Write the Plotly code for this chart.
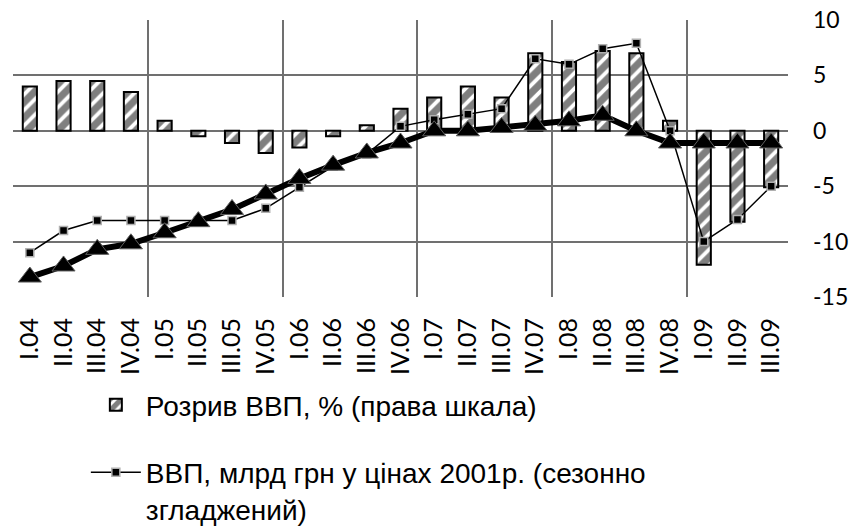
import plotly.graph_objects as go

categories = ["I.04", "II.04", "III.04", "IV.04", "I.05", "II.05", "III.05", "IV.05",
              "I.06", "II.06", "III.06", "IV.06", "I.07", "II.07", "III.07", "IV.07",
              "I.08", "II.08", "III.08", "IV.08", "I.09", "II.09", "III.09"]
gap_pct = [4.0, 4.5, 4.5, 3.5, 0.9, -0.5, -1.1, -2.0, -1.5, -0.5, 0.5, 2.0,
           3.0, 4.0, 3.0, 7.0, 6.2, 7.2, 7.0, 0.9, -12.1, -8.2, -5.1]
gdp_series = [-11.0, -9.0, -8.1, -8.1, -8.1, -8.1, -8.1, -7.0, -5.1, -3.2, -2.1, 0.4,
              1.0, 1.5, 2.0, 6.5, 6.0, 7.4, 7.9, 0.0, -10.0, -8.0, -5.0]
trend_series = [-13.2, -12.2, -10.7, -10.2, -9.2, -8.2, -7.1, -5.7, -4.3, -3.1, -2.0, -1.1,
                0.0, 0.0, 0.3, 0.5, 0.9, 1.4, 0.0, -1.1, -1.1, -1.1, -1.1]
y_ticks = [10, 5, 0, -5, -10, -15]
y_tick_labels = ["10", "5", "0", "-5", "-10", "-15"]

x_idx = list(range(len(categories)))

fig = go.Figure()
fig.add_trace(go.Bar(
    x=x_idx, y=gap_pct, name="Розрив ВВП, % (права шкала)",
    marker=dict(color="white", line=dict(color="black", width=2),
                pattern=dict(shape="/", fgcolor="black", bgcolor="white",
                             size=11, solidity=0.65)),
    legendgroup="a",
))
fig.add_trace(go.Scatter(
    x=x_idx, y=gdp_series, mode="lines+markers",
    name="ВВП, млрд грн у цінах 2001р. (сезонно<br>згладжений)",
    line=dict(color="black", width=1.5),
    marker=dict(symbol="square", size=8, color="black",
                line=dict(color="#b0b0b0", width=1.5)),
    legendgroup="b",
))
fig.add_trace(go.Scatter(
    x=x_idx, y=trend_series, mode="lines+markers", name="Тренд ВВП",
    line=dict(color="black", width=6),
    marker=dict(symbol="triangle-up", size=20, color="black",
                line=dict(color="#606060", width=1)),
    showlegend=False,
))

fig.update_layout(
    width=853, height=527,
    margin=dict(l=13, r=65, t=20, b=230, autoexpand=False),
    paper_bgcolor="white", plot_bgcolor="white",
    bargap=0.58,
    showlegend=True,
    legend=dict(x=0.094, xanchor="left", y=-0.30, yanchor="top",
                font=dict(family="Liberation Sans, Arial, sans-serif", size=28, color="black"),
                traceorder="grouped", tracegroupgap=28, itemwidth=50, valign="top",
                bgcolor="rgba(0,0,0,0)"),
    font=dict(family="Lato, sans-serif", color="black"),
)
fig.update_xaxes(
    range=[-0.5, len(categories) - 0.5], automargin=False,
    tickmode="array", tickvals=x_idx, ticktext=categories,
    tickangle=-90, tickfont=dict(family="Lato, sans-serif", size=25, color="black"),
    showgrid=False, zeroline=False, showline=False, ticks="",
    ticklabelstandoff=15,
    minor=dict(tickmode="linear", tick0=-0.5, dtick=4, showgrid=True,
               gridcolor="#707070", gridwidth=1.5, ticks=""),
)
fig.update_yaxes(
    side="right", range=[-15, 10], automargin=False,
    tickmode="array", tickvals=y_ticks, ticktext=y_tick_labels,
    tickfont=dict(family="Lato, sans-serif", size=23, color="black"),
    showgrid=True, gridcolor="#707070", gridwidth=1.5, zeroline=False,
    showline=False, ticks="", ticklabelstandoff=24,
)

fig.write_html("out.html", config={"displayModeBar": False},
               post_script="document.body.style.margin='0px';")
